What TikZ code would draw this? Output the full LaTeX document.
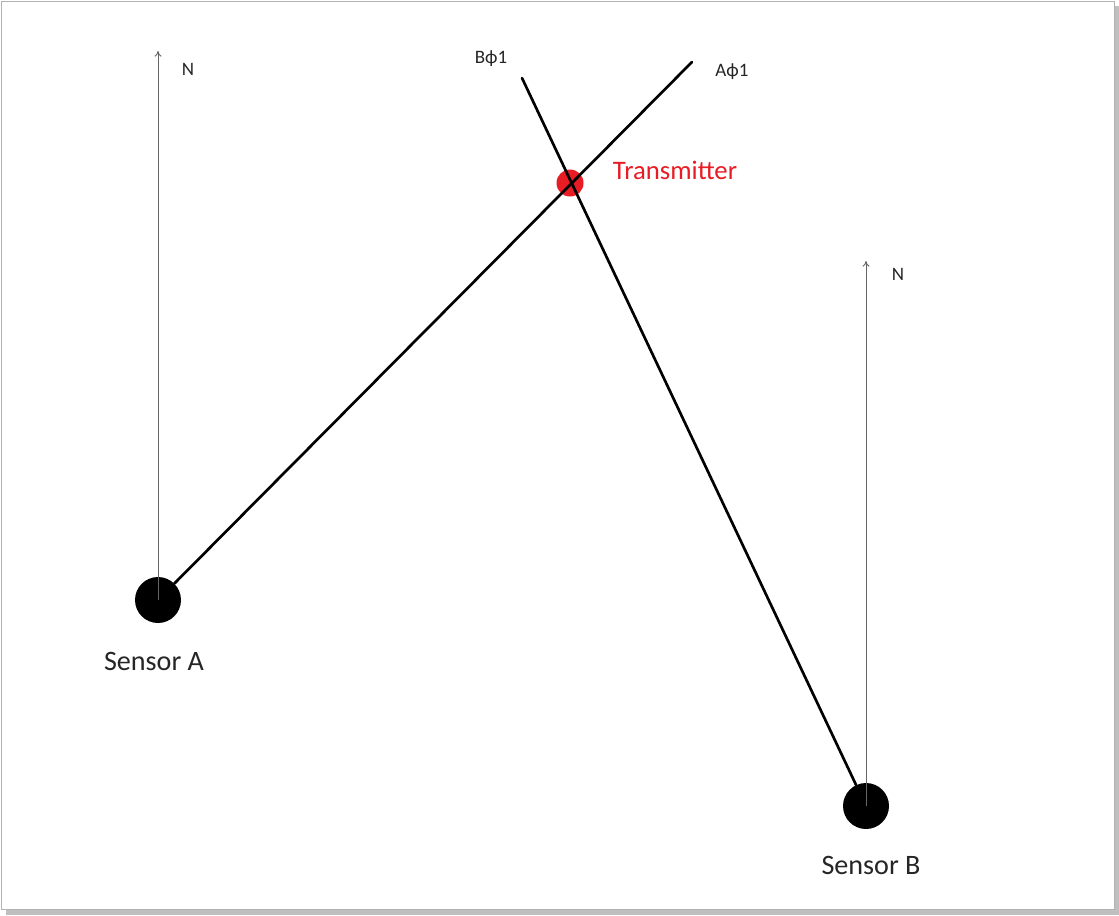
\documentclass[tikz,border=0pt]{standalone}
\usepackage{fontspec}
\setmainfont{Carlito}
\usetikzlibrary{arrows.meta,positioning}

\definecolor{txred}{RGB}{232,28,36}
\tikzset{
  sensor/.style={circle,fill=black,minimum size=46\pxu,inner sep=0pt},
  bearing/.style={line width=1.9pt,line cap=round},
  north/.style={draw=black!60,line width=0.65pt,-{To[length=4pt,width=5pt]}},
  lbl/.style={font=\fontsize{20}{24}\selectfont,text=black!85},
  smalllbl/.style={font=\fontsize{13.5}{16}\selectfont,text=black!85},
}
\newlength{\pxu}\setlength{\pxu}{0.025cm}

\begin{document}
\begin{tikzpicture}[x=0.025cm,y=-0.025cm]
  \useasboundingbox (0,0) rectangle (1119,915);
  \fill[white] (0,0) rectangle (1119,915); % 背景
  \fill[black!25] (6,909) rectangle (1119,915); % 下側の影
  \fill[black!25] (1114,6) rectangle (1119,915); % 右側の影
  \draw[black!30,fill=white] (1,1) rectangle (1114,909); % 枠

  % センサーと送信機
  \node[sensor] (sA) at (158,600) {};
  \node[sensor] (sB) at (866,806) {};
  \node[circle,fill=txred,minimum size=27\pxu,inner sep=0pt] (tx) at (570,183) {};

  \coordinate (nA) at (158,51); % センサーAの北
  \coordinate (nB) at (866,261); % センサーBの北
  \coordinate (aEnd) at (692,62); % 方位線Aの先端
  \coordinate (bEnd) at (522,78); % 方位線Bの先端

  \draw[north] (sA.center) -- (nA);
  \draw[north] (sB.center) -- (nB);
  \draw[bearing] (sA) -- (aEnd);
  \draw[bearing] (bEnd) -- (sB);

  % ラベル
  \node[lbl] (labA) at (154,661) {Sensor A};
  \node[lbl] (labB) at (871,865) {Sensor B};
  \node[font=\fontsize{19}{23}\selectfont,text=txred] (labT) at (675,170) {Transmitter};
  \node[smalllbl] (labNA) at (188,69) {N};
  \node[smalllbl] (labNB) at (898,274) {N};
  \node[smalllbl] (labBp) at (491,59) {Bϕ1};
  \node[smalllbl] (labAp) at (732,72) {Aϕ1};
\end{tikzpicture}
\end{document}
